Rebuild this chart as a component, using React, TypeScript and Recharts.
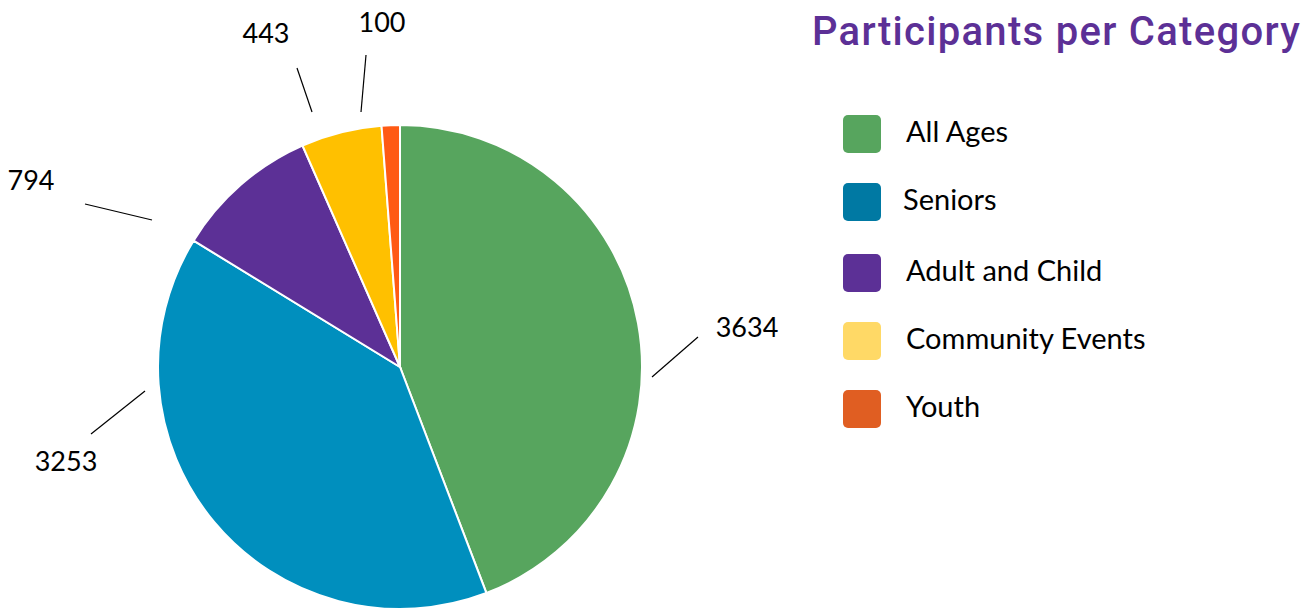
import React from "react";
import { PieChart, Pie, Cell } from "recharts";

const categories = ["All Ages", "Seniors", "Adult and Child", "Community Events", "Youth"];
const participants = [3634, 3253, 794, 443, 100];
const sliceColors = ["#57A55E", "#008FBE", "#5C3096", "#FFC000", "#FF5A14"];
const legendColors = ["#57A55E", "#0079A3", "#5C3096", "#FFD966", "#E05E22"];
const title = "Participants per Category";

const data = categories.map((name, i) => ({ name, value: participants[i] }));

// leader line & label offsets relative to pie centre: [x1,y1,x2,y2,tx,tyBaseline]
const LABEL_LAYOUT = [
  [252, 10, 298, -30, 347, -30],
  [-255, 24, -309, 67, -334, 104],
  [-248, -147, -315, -163, -369, -177],
  [-88, -255, -103, -299, -134, -324],
  [-39, -255, -34, -312, -18, -335],
];

const FONT = "Lato, 'Noto Sans', sans-serif";

const renderLabel = (props: any) => {
  const { cx, cy, index, value } = props;
  const l = LABEL_LAYOUT[index];
  return (
    <g key={"lbl" + index}>
      <line x1={cx + l[0]} y1={cy + l[1]} x2={cx + l[2]} y2={cy + l[3]} stroke="#000" strokeWidth={1.2} />
      <text x={cx + l[4]} y={cy + l[5]} textAnchor="middle" fontFamily={FONT} fontSize={27} fill="#000">
        {value}
      </text>
    </g>
  );
};

export default function App() {
  return (
    <div style={{ position: "absolute", left: 0, top: 0, width: 1310, height: 609, background: "#fff" }}>
      <PieChart width={1310} height={609}>
        <Pie
          data={data}
          dataKey="value"
          nameKey="name"
          cx={395}
          cy={362}
          outerRadius={242}
          startAngle={90}
          endAngle={-270}
          stroke="#fff"
          strokeWidth={2}
          label={renderLabel}
          labelLine={false}
          isAnimationActive={false}
        >
          {data.map((d, i) => (
            <Cell key={d.name} fill={sliceColors[i]} />
          ))}
        </Pie>
      </PieChart>
      <div
        style={{
          position: "absolute",
          left: 812,
          top: 8,
          fontFamily: "Roboto, sans-serif",
          fontWeight: 500,
          fontSize: 40,
          lineHeight: "48px",
          color: "#5C3096",
          letterSpacing: 1.3,
          whiteSpace: "nowrap",
        }}
      >
        {title}
      </div>
      <div style={{ position: "absolute", left: 843, top: 115, fontFamily: FONT }}>
        {categories.map((c, i) => (
          <div key={c} style={{ display: "flex", alignItems: "center", height: 38, marginBottom: i === 1 ? 33 : 30 }}>
            <div style={{ width: 38, height: 38, borderRadius: 5, background: legendColors[i] }} />
            <div style={{ marginLeft: i === 1 ? 22 : 25, marginTop: -7, fontSize: 29, color: "#000", whiteSpace: "nowrap" }}>{c}</div>
          </div>
        ))}
      </div>
    </div>
  );
}
